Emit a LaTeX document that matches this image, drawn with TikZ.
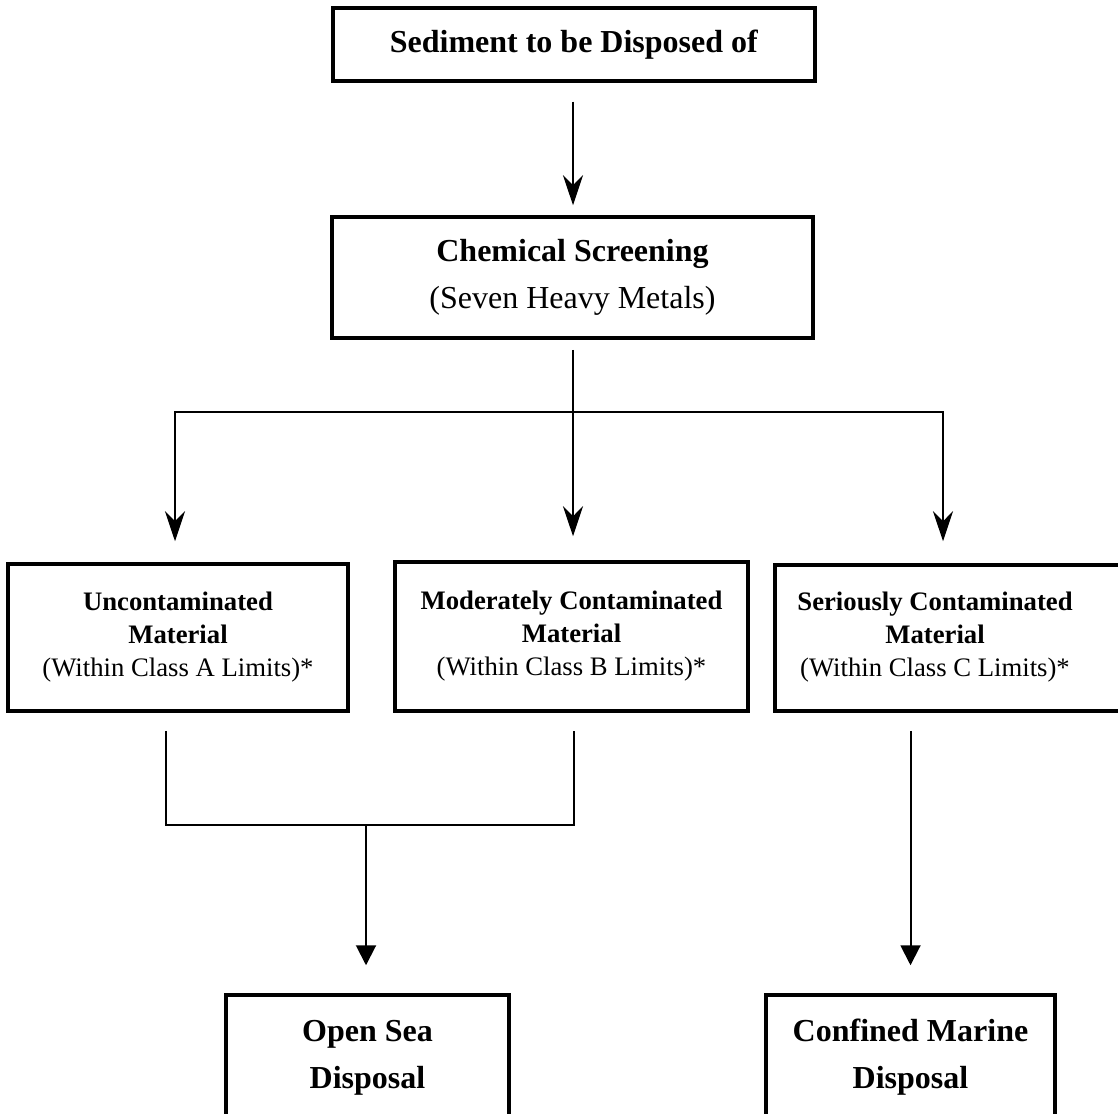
\documentclass[tikz,border=0pt]{standalone}
\usepackage{fontspec}
\setmainfont{Liberation Serif}
\usetikzlibrary{arrows.meta,calc}
\begin{document}
\begin{tikzpicture}[x=1pt,y=-1pt,
  box/.style={draw, line width=3.5pt, inner sep=0pt, align=center},
  conn/.style={line width=2pt},
  arrS/.style={conn, -{Stealth[length=30pt,width=20pt,inset=10pt]}},
  arrT/.style={conn, -{Triangle[length=20pt,width=20pt]}},
  big/.style={font=\fontsize{32}{47}\selectfont},
  midf/.style={font=\fontsize{26.7}{33}\selectfont}]
\useasboundingbox (0,0) rectangle (1118,1113);
% boxes
\node[box, big, minimum width=482pt, minimum height=73pt] (top) at (574,44.5)
  {\textbf{Sediment to be Disposed of}};
\node[box, big, minimum width=481pt, minimum height=121pt] (chem) at (572.5,277.5)
  {\textbf{Chemical Screening}\\(Seven Heavy Metals)};
\node[box, midf, minimum width=340pt, minimum height=147pt] (unc) at (178,637.5)
  {\textbf{Uncontaminated}\\\textbf{Material}\\(Within Class A Limits)*};
\node[box, midf, minimum width=353pt, minimum height=149pt] (mod) at (571.5,636.5)
  {\textbf{Moderately Contaminated}\\\textbf{Material}\\(Within Class B Limits)*};
\node[box, minimum width=355pt, minimum height=146pt] (ser) at (952.5,638) {};
\node[midf, align=center, inner sep=0pt] (sert) at (935,637.5)
  {\textbf{Seriously Contaminated}\\\textbf{Material}\\(Within Class C Limits)*};
\node[box, big, minimum width=283pt, minimum height=125pt] (sea) at (367.5,1057.5)
  {\textbf{Open Sea}\\\textbf{Disposal}};
\node[box, big, minimum width=289pt, minimum height=125pt] (conf) at (910.5,1057.5)
  {\textbf{Confined Marine}\\\textbf{Disposal}};
% connectors
\coordinate (j1) at (573,412);
\coordinate (j2) at (366,825);
\draw[arrS, shorten <=19pt, shorten >=10pt] (top.south -| j1) -- (chem.north -| j1);
\draw[conn, shorten <=10pt] (chem.south -| j1) -- (j1);
\draw[arrS, shorten >=21pt] (j1) -| ([xshift=-3pt]unc.north);
\draw[arrS, shorten >=24pt] (j1) -- (j1 |- mod.north);
\draw[arrS, shorten >=22pt] (j1) -| ([xshift=-9.5pt]ser.north);
\draw[conn] ([xshift=-12pt,yshift=-18pt]unc.south) |- (j2) -| ([xshift=2.5pt,yshift=-18pt]mod.south);
\draw[arrT, shorten >=28pt] (j2) -- (j2 |- sea.north);
\draw[arrT, shorten <=18pt, shorten >=28pt] (conf.north |- ser.south) -- (conf.north);
\end{tikzpicture}
\end{document}
